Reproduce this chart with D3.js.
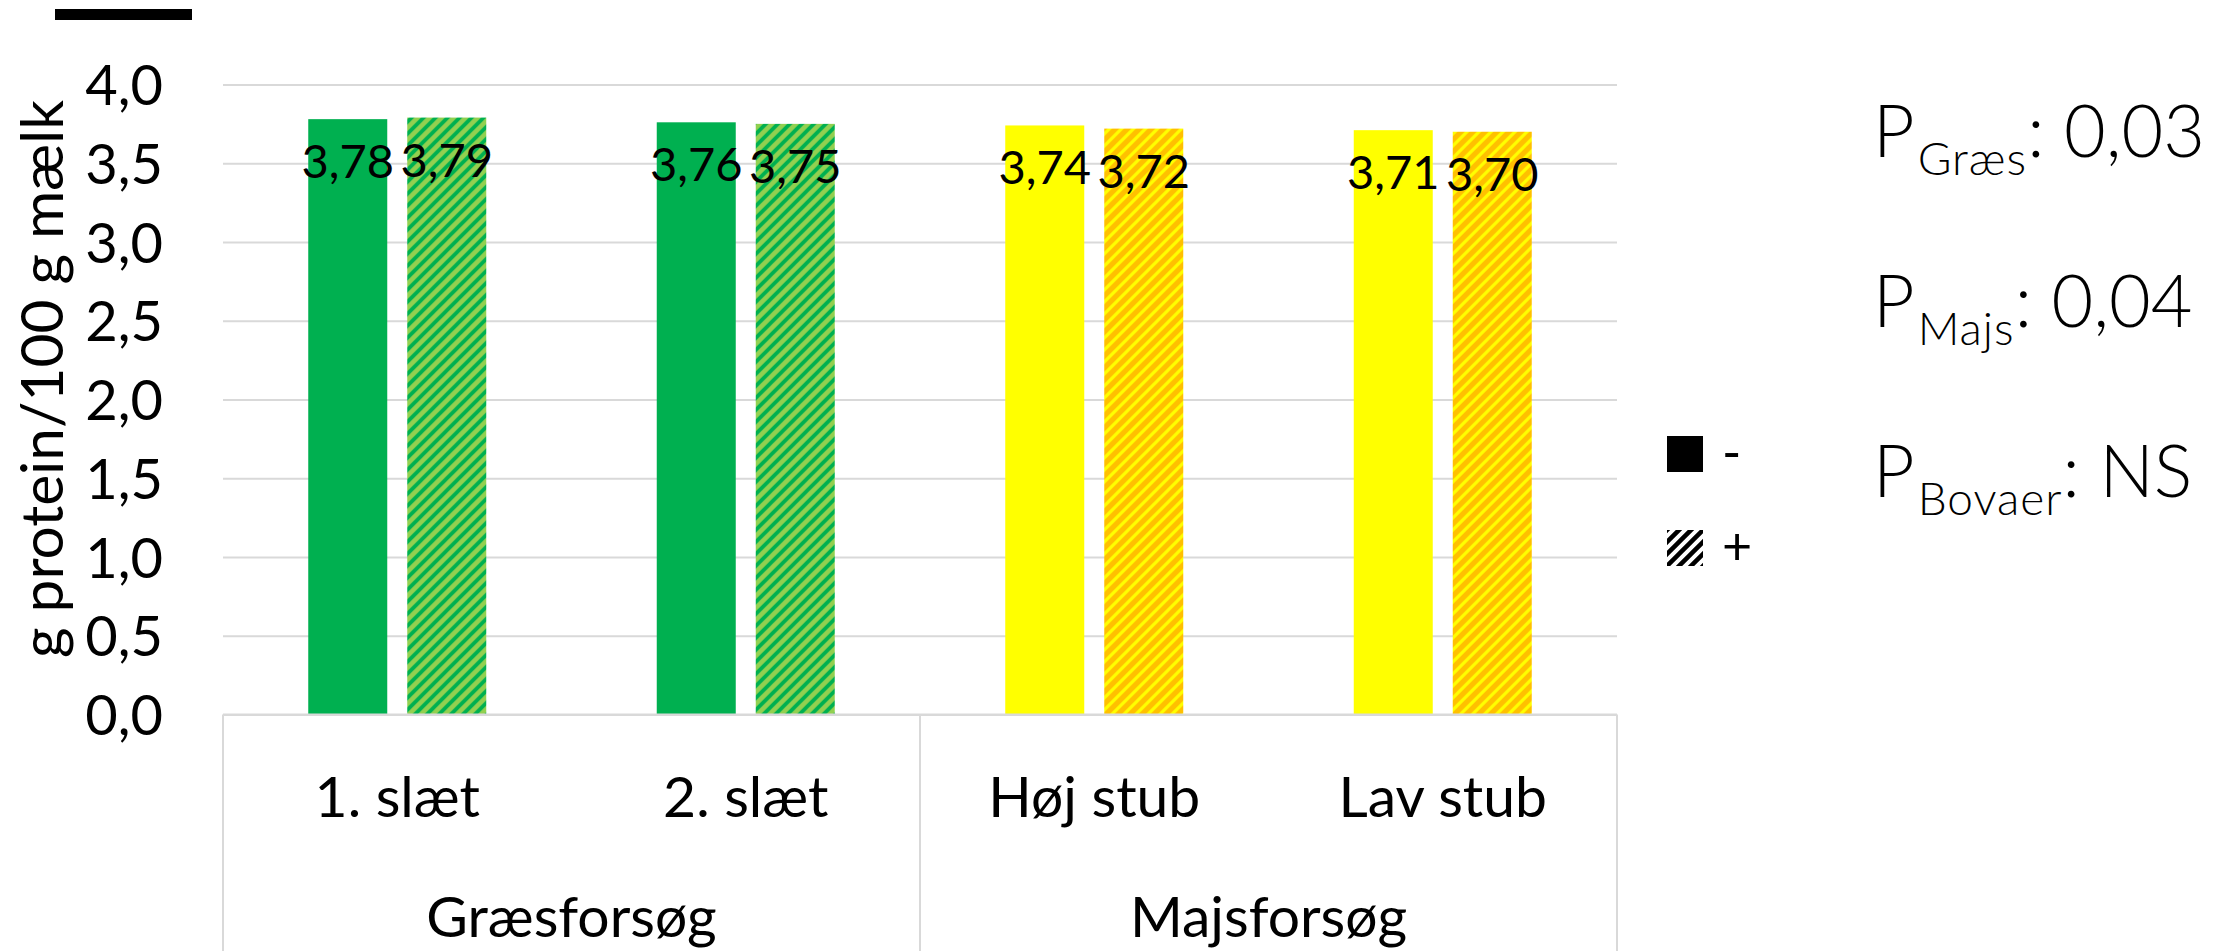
<!DOCTYPE html>
<html>
<head>
<meta charset="utf-8">
<script src="https://cdn.jsdelivr.net/npm/d3@7"></script>
<style>
  body { margin: 0; background: #fff; }
  svg { display: block; font-family: Lato, 'Noto Sans', sans-serif; }
  .grid line { stroke: #d9d9d9; stroke-width: 2; }
  .sep { stroke: #d9d9d9; stroke-width: 2; }
</style>
</head>
<body>
<script>
// Data
var categories = ['1. slæt', '2. slæt', 'Høj stub', 'Lav stub'],
    groupNames = ['Græsforsøg', 'Majsforsøg'],
    groupOf    = [0, 0, 1, 1],                 // which group each category belongs to
    seriesNames = ['-', '+'],
    valuesMinus = [3.78, 3.76, 3.74, 3.71],
    valuesPlus  = [3.79, 3.75, 3.72, 3.70],
    yTicks = [0, 0.5, 1, 1.5, 2, 2.5, 3, 3.5, 4],
    pLabels = ['Græs', 'Majs', 'Bovaer'],
    pValues = ['0,03', '0,04', 'NS'];

// Style
var groupColors = ['#00b050', '#ffff00'],   // solid (-) bars
    hatchColors = [['#92d050', '#00b050'], ['#ffc000', '#ffff00']]; // [background, stripe] for (+) bars

var width = 2232, height = 951;
var plot = {left: 223, right: 1617, top: 84.5, bottom: 714.5};

// Danish number format (comma decimal)
var da = d3.formatLocale({decimal: ',', thousands: '.', grouping: [3], currency: ['', ' kr']});
var fmt1 = da.format('.1f'), fmt2 = da.format('.2f');

var svg = d3.select('body').append('svg')
    .attr('width', width)
    .attr('height', height);

// Hatch patterns
var defs = svg.append('defs');
function hatch(id, bg, fg, sw) {
    var P = 12;
    var p = defs.append('pattern')
        .attr('id', id)
        .attr('patternUnits', 'userSpaceOnUse')
        .attr('width', P).attr('height', P);
    p.append('rect').attr('width', P).attr('height', P).attr('fill', bg);
    p.append('path')
        .attr('d', 'M0,' + P + 'L' + P + ',0M' + (-P / 2) + ',' + (P / 2) + 'L' + (P / 2) + ',' + (-P / 2) +
                   'M' + (P / 2) + ',' + (3 * P / 2) + 'L' + (3 * P / 2) + ',' + (P / 2))
        .attr('stroke', fg).attr('stroke-width', sw);
}
hatch('hatch0', hatchColors[0][0], hatchColors[0][1], 3.8);
hatch('hatch1', hatchColors[1][0], hatchColors[1][1], 3.2);
hatch('hatchLegend', '#fff', '#000', 4.5);

// Decorative bar top left
svg.append('rect').attr('x', 55).attr('y', 9).attr('width', 137).attr('height', 11).attr('fill', '#000');

// Scales
var x = d3.scaleBand().domain(categories).range([plot.left, plot.right]).padding(0);
var xs = d3.scaleBand().domain(seriesNames).range([-89, 89]).paddingInner(0.202).paddingOuter(0);
var y = d3.scaleLinear().domain([0, 4]).range([plot.bottom, plot.top]);

// Y axis + gridlines
var yAxis = d3.axisLeft(y)
    .tickValues(yTicks)
    .tickSize(-(plot.right - plot.left))
    .tickPadding(60)
    .tickFormat(fmt1);

var gy = svg.append('g')
    .attr('class', 'grid')
    .attr('transform', 'translate(' + plot.left + ',0)')
    .call(yAxis);
gy.select('.domain').remove();
gy.selectAll('text')
    .attr('dy', '0.36em')
    .attr('font-size', 56)
    .attr('font-family', 'Lato')
    .attr('fill', '#000');

// Y axis title
var yTitle = svg.append('text')
    .attr('transform', 'translate(63,379) rotate(-90)')
    .attr('text-anchor', 'middle')
    .attr('font-size', 60)
    .text('g protein/100 g mælk');
// fit title to the length seen in the reference
var tl = yTitle.node().getComputedTextLength();
yTitle.attr('font-size', 60 * 558 / tl);

// Bars
var rows = categories.map(function(c, i) {
    return {cat: c, g: groupOf[i], vals: [valuesMinus[i], valuesPlus[i]]};
});

var cat = svg.selectAll('.cat')
    .data(rows)
    .enter().append('g')
    .attr('class', 'cat')
    .attr('transform', function(d) { return 'translate(' + (x(d.cat) + x.bandwidth() / 2) + ',0)'; });

var bars = cat.selectAll('.bar')
    .data(function(d) {
        return seriesNames.map(function(s, j) { return {s: s, j: j, v: d.vals[j], g: d.g}; });
    })
    .enter();

bars.append('rect')
    .attr('class', 'bar')
    .attr('x', function(d) { return xs(d.s); })
    .attr('width', xs.bandwidth())
    .attr('y', function(d) { return y(d.v); })
    .attr('height', function(d) { return y(0) - y(d.v); })
    .attr('fill', function(d) { return d.j === 0 ? groupColors[d.g] : 'url(#hatch' + d.g + ')'; });

// Data labels
bars.append('text')
    .attr('x', function(d) { return xs(d.s) + xs.bandwidth() / 2; })
    .attr('y', function(d) { return y(d.v) + 59; })
    .attr('text-anchor', 'middle')
    .attr('font-size', 47)
    .text(function(d) { return fmt2(d.v); });

// Category axis (two levels)
svg.append('line').attr('class', 'sep')
    .attr('x1', plot.left).attr('x2', plot.right)
    .attr('y1', plot.bottom).attr('y2', plot.bottom);

var xAxis = d3.axisBottom(x).tickSize(0).tickPadding(0);
var gx = svg.append('g')
    .attr('transform', 'translate(0,' + plot.bottom + ')')
    .call(xAxis);
gx.select('.domain').remove();
gx.selectAll('text')
    .attr('dy', null)
    .attr('y', 102)
    .attr('font-size', 57)
    .attr('font-family', 'Lato')
    .attr('fill', '#000');

// Group labels and separators
var groups = groupNames.map(function(name, gi) {
    var cats = categories.filter(function(c, i) { return groupOf[i] === gi; });
    return {name: name, x0: x(cats[0]), x1: x(cats[cats.length - 1]) + x.bandwidth()};
});

svg.selectAll('.gsep')
    .data([groups[0].x0].concat(groups.map(function(g) { return g.x1; })))
    .enter().append('line')
    .attr('class', 'sep')
    .attr('x1', function(d) { return d; }).attr('x2', function(d) { return d; })
    .attr('y1', plot.bottom).attr('y2', height);

svg.selectAll('.glabel')
    .data(groups)
    .enter().append('text')
    .attr('x', function(d) { return (d.x0 + d.x1) / 2; })
    .attr('y', 937)
    .attr('text-anchor', 'middle')
    .attr('font-size', 57)
    .text(function(d) { return d.name; });

// Legend
var legend = svg.selectAll('.legend')
    .data(seriesNames)
    .enter().append('g')
    .attr('transform', function(d, i) { return 'translate(1667,' + (436 + i * 94) + ')'; });
legend.append('rect')
    .attr('width', 36).attr('height', 36)
    .attr('fill', function(d, i) { return i === 0 ? '#000' : 'url(#hatchLegend)'; });
legend.append('text')
    .attr('x', 55).attr('y', 18).attr('dy', '0.33em')
    .attr('font-size', 52)
    .text(function(d) { return d; });

// P values
var pt = svg.selectAll('.pval')
    .data(pLabels)
    .enter().append('text')
    .attr('x', 1873)
    .attr('y', function(d, i) { return 157 + i * 170; })
    .attr('font-size', 72)
    .attr('font-weight', 300);
pt.append('tspan').text('P');
pt.append('tspan').attr('dx', 3).attr('dy', 18).attr('font-size', 46)
    .attr('letter-spacing', 1).text(function(d) { return d; });
pt.append('tspan').attr('dy', -18).text(function(d, i) { return ': ' + pValues[i]; });
</script>
</body>
</html>
